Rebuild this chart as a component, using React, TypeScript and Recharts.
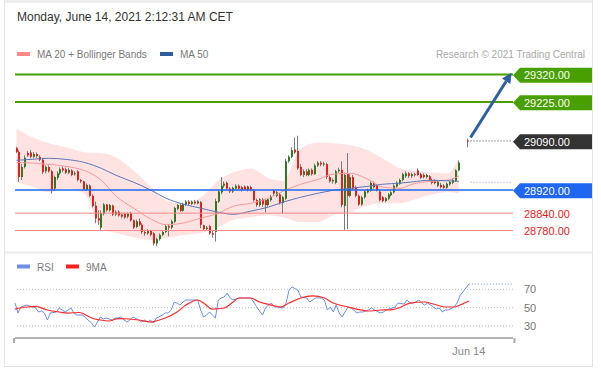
import React from "react";
import { ComposedChart, Bar, Line, Area, XAxis, YAxis, ReferenceLine } from "recharts";

const FONT = '"Liberation Sans", Arial, Helvetica, sans-serif';
const PLOT_L = 15;
const PLOT_R = 513;
const SLOTS = 170;
const BW = (PLOT_R - PLOT_L) / SLOTS;

// price levels
const target2 = 29320;
const target1 = 29225;
const lastPrice = 29090;
const pivot = 28920;
const support1 = 28840;
const support2 = 28780;
const ma50Last = 28947;
const rsiLast = 75.7;

// candles (slot index = array index)
const opens = [
  29065, 29052, 28965, 29000, 29048, 29050, 29035, 29045, 29035, 29025,
  28985, 29000, 28985, 28925, 28962, 28978, 28995, 28992, 28980, 28988,
  28975, 28985, 28955, 28950, 28922, 28935, 28900, 28866, 28822, 28790,
  28838, 28870, 28850, 28866, 28835, 28845, 28835, 28838, 28828, 28840,
  28815, 28792, 28812, 28800, 28775, 28770, 28778, 28770, 28735, 28750,
  28765, 28775, 28795, 28790, 28810, 28855, 28868, 28848, 28870, 28880,
  28872, 28880, 28874, 28878, 28798, 28785, 28795, 28770, 28775, 28880,
  28912, 28935, 28945, 28925, 28915, 28925, 28935, 28930, 28932, 28932,
  28930, 28918, 28885, 28868, 28888, 28885, 28868, 28885, 28918, 28900,
  28905, 28875, 28890, 29020, 29035, 29060, 29055, 29000, 28972, 28985,
  28972, 28990, 28975, 29005, 29015, 29008, 29010, 28965, 28950, 28945,
  28985, 28990, 28865, 28975, 28900, 28965, 28928, 28900, 28870, 28895,
  28912, 28918, 28945, 28935, 28915, 28895, 28882, 28890, 28902, 28912,
  28932, 28942, 28955, 28968, 28978, 28968, 28975, 28988, 28975, 28972,
  28965, 28968, 28955, 28952, 28935, 28938, 28935, 28928, 28940, 28945,
  28952, 28988, null, null, 29092,
];
const highs = [
  29070, 29058, 29010, 29040, 29055, 29058, 29052, 29050, 29040, 29028,
  29005, 29005, 28990, 28970, 28985, 28998, 29002, 28998, 28996, 28992,
  28985, 28990, 28958, 28952, 28942, 28940, 28905, 28880, 28850, 28850,
  28875, 28872, 28872, 28870, 28850, 28850, 28842, 28842, 28842, 28845,
  28818, 28818, 28822, 28805, 28782, 28785, 28782, 28775, 28755, 28770,
  28780, 28800, 28802, 28818, 28862, 28872, 28872, 28876, 28885, 28885,
  28884, 28886, 28885, 28882, 28800, 28795, 28800, 28778, 28890, 28920,
  28965, 28950, 28950, 28930, 28932, 28940, 28940, 28935, 28936, 28935,
  28935, 28922, 28890, 28892, 28892, 28890, 28892, 28903, 28922, 28918,
  28910, 28900, 29028, 29040, 29068, 29102, 29108, 29010, 28992, 28992,
  28995, 28995, 29012, 29020, 29020, 29018, 29015, 28970, 28960, 28990,
  28998, 29020, 28980, 29048, 28975, 28972, 28935, 28905, 28900, 28920,
  28925, 28950, 28950, 28940, 28920, 28900, 28896, 28910, 28916, 28940,
  28950, 28960, 28980, 28985, 28982, 28980, 28980, 28995, 28980, 28978,
  28976, 28972, 28960, 28958, 28955, 28945, 28940, 28946, 28952, 28960,
  28992, 29022, null, null, 29098,
];
const lows = [
  29048, 28948, 28955, 28995, 29035, 29030, 29030, 29032, 29020, 28975,
  28978, 28980, 28908, 28918, 28955, 28972, 28982, 28975, 28975, 28968,
  28970, 28950, 28944, 28918, 28918, 28895, 28860, 28805, 28800, 28778,
  28832, 28845, 28845, 28830, 28830, 28828, 28822, 28820, 28822, 28810,
  28785, 28788, 28795, 28768, 28762, 28765, 28760, 28728, 28726, 28745,
  28760, 28770, 28760, 28785, 28805, 28850, 28845, 28845, 28865, 28868,
  28868, 28870, 28870, 28788, 28778, 28780, 28765, 28755, 28742, 28875,
  28905, 28928, 28920, 28910, 28910, 28920, 28920, 28915, 28918, 28915,
  28916, 28880, 28862, 28862, 28862, 28843, 28862, 28880, 28900, 28895,
  28870, 28840, 28885, 29015, 29030, 29045, 28990, 28968, 28965, 28968,
  28968, 28970, 28972, 29000, 29002, 29002, 28958, 28945, 28942, 28940,
  28980, 28860, 28782, 28785, 28895, 28920, 28895, 28865, 28865, 28890,
  28908, 28914, 28925, 28915, 28880, 28878, 28878, 28885, 28898, 28908,
  28928, 28938, 28950, 28962, 28962, 28962, 28966, 28968, 28958, 28960,
  28960, 28950, 28940, 28940, 28930, 28925, 28924, 28924, 28935, 28940,
  28948, 28985, null, null, 29068,
];
const closes = [
  29052, 28965, 29000, 29032, 29040, 29035, 29045, 29038, 29025, 28982,
  29000, 28985, 28922, 28965, 28978, 28992, 28988, 28980, 28990, 28972,
  28978, 28955, 28950, 28922, 28938, 28900, 28865, 28822, 28815, 28840,
  28870, 28850, 28868, 28835, 28845, 28832, 28828, 28825, 28838, 28815,
  28790, 28812, 28800, 28775, 28770, 28778, 28765, 28735, 28750, 28765,
  28775, 28795, 28790, 28812, 28858, 28868, 28848, 28872, 28880, 28872,
  28880, 28874, 28881, 28800, 28785, 28790, 28770, 28765, 28882, 28915,
  28935, 28942, 28925, 28915, 28928, 28935, 28925, 28920, 28922, 28920,
  28920, 28885, 28868, 28888, 28870, 28868, 28888, 28898, 28908, 28912,
  28875, 28895, 29020, 29035, 29058, 29050, 28995, 28972, 28985, 28972,
  28990, 28975, 29005, 29015, 29008, 29012, 28965, 28950, 28955, 28985,
  28990, 28868, 28972, 28900, 28965, 28925, 28900, 28870, 28895, 28915,
  28920, 28945, 28930, 28920, 28885, 28882, 28892, 28905, 28912, 28935,
  28945, 28955, 28975, 28978, 28968, 28975, 28972, 28972, 28962, 28965,
  28972, 28955, 28945, 28944, 28950, 28930, 28928, 28942, 28948, 28955,
  28988, 29015, null, null, 29090,
];

// MA 20, MA 50 and Bollinger bands, read at these slots
const ovIdx = [0, 6, 11, 17, 23, 29, 34, 40, 46, 51, 57, 63, 69, 74, 80, 86, 91, 97, 103, 108, 114, 120, 125, 131, 135, 141, 147, 151];
const ma20 = [29016, 29013, 29009, 29002, 28988, 28954, 28899, 28857, 28819, 28800, 28806, 28823, 28840, 28864, 28874, 28892, 28916, 28940, 28957, 28975, 28978, 28957, 28930, 28926, 28940, 28950, 28954, 28968];
const ma50 = [29023, 29027, 29030, 29026, 29016, 28995, 28971, 28947, 28919, 28892, 28871, 28857, 28843, 28836, 28847, 28861, 28878, 28895, 28909, 28919, 28926, 28933, 28940, 28944, 28948, 28954, 28952, 28950];
const bbUpper = [29133, 29100, 29082, 29068, 29051, 29047, 29033, 28988, 28930, 28885, 28874, 28895, 28954, 28981, 28995, 28962, 28952, 29064, 29085, 29082, 29075, 29057, 29030, 28995, 28988, 28981, 28978, 29030];
const bbLower = [28947, 28930, 28912, 28926, 28909, 28788, 28771, 28757, 28747, 28754, 28764, 28771, 28792, 28816, 28826, 28833, 28826, 28809, 28809, 28833, 28843, 28867, 28874, 28874, 28885, 28902, 28912, 28909];

// RSI and its 9MA
const rsiIdx = [
  0, 1, 2, 4, 6, 7, 8, 9, 10, 11,
  12, 14, 15, 16, 17, 18, 19, 20, 21, 23,
  24, 26, 27, 28, 29, 30, 31, 33, 34, 35,
  36, 37, 38, 39, 40, 42, 43, 44, 45, 46,
  47, 48, 50, 51, 52, 53, 54, 55, 56, 57,
  58, 60, 62, 63, 64, 65, 66, 67, 68, 69,
  70, 71, 72, 73, 74, 76, 77, 78, 80, 81,
  82, 84, 85, 86, 87, 88, 89, 91, 92, 93,
  94, 96, 97, 99, 100, 102, 104, 105, 106, 107,
  108, 109, 110, 111, 113, 114, 115, 116, 117, 118,
  120, 121, 122, 124, 125, 126, 128, 129, 130, 132,
  133, 134, 135, 136, 137, 138, 139, 140, 142, 143,
  144, 145, 146, 147, 149, 150, 151, 154,
];
const rsiVals = [
  55.1, 44.2, 50.8, 52.9, 50.8, 49.7, 45.3, 46.4, 44.2, 36.6,
  44.2, 45.3, 49.7, 47.5, 45.3, 47.5, 49.7, 44.2, 42, 42,
  38.8, 33.3, 29, 34.4, 39.9, 37.7, 38.8, 36.6, 38.8, 38.8,
  39.9, 36.6, 34.4, 36.6, 39.9, 36.6, 34.4, 36.6, 34.4, 36.6,
  33.3, 38.8, 42, 44.2, 44.2, 47.5, 56, 55.1, 52.9, 56.2,
  58.4, 58.4, 58.4, 47.5, 39.9, 42, 45.3, 42, 38.8, 58.4,
  60.6, 61.7, 66, 60.6, 58.4, 60.6, 60.6, 60.6, 60.6, 56.2,
  50.8, 42, 49.7, 52.9, 55.1, 50.8, 50.8, 49.7, 55.1, 69.3,
  72.6, 69.3, 61.7, 60.6, 56.2, 60.6, 60.6, 58.4, 47.5, 50.8,
  45.3, 52.9, 44.2, 39.9, 50.8, 49.7, 47.5, 44.2, 45.3, 45.3,
  47.5, 49.7, 47.5, 44.2, 45.3, 47.5, 49.7, 50.8, 55.1, 54,
  58.4, 55.1, 55.1, 56.2, 58.4, 55.1, 52.9, 55.1, 50.8, 48.5,
  49.7, 45.3, 47.5, 47.5, 50.8, 55.1, 63, 75.7,
];
const rsiMaIdx = [0, 4, 7, 11, 15, 18, 22, 24, 26, 29, 32, 35, 39, 42, 46, 49, 51, 55, 58, 62, 64, 67, 71, 74, 76, 80, 83, 87, 90, 93, 97, 101, 105, 108, 113, 116, 120, 124, 128, 131, 134, 139, 142, 146, 149, 151, 154];
const rsiMaVals = [48.5, 50.8, 51.5, 47.5, 45.3, 44.2, 44.8, 42, 38.8, 36.6, 35.5, 38.2, 37.7, 36.6, 34.4, 36.6, 38.8, 45.3, 52.9, 58.4, 55.1, 48.5, 49.7, 56.2, 60.6, 60.6, 56.2, 52.9, 50.8, 55.1, 60.6, 62.8, 60.6, 55.1, 50.8, 48.5, 46.4, 47.5, 48, 50.8, 55.1, 56.2, 54, 50.8, 50.8, 52.9, 57.3];
const rsiTicks = [30, 50, 70];

const dateTickIdx = [154];
const dateTickText = ["Jun 14"];

const priceData = Array.from({ length: SLOTS }, (_, i) => {
  const row: any = { i };
  if (i < opens.length && opens[i] != null) {
    row.o = opens[i];
    row.h = highs[i];
    row.l = lows[i];
    row.c = closes[i];
    row.hl = [lows[i], highs[i]];
  }
  const k = ovIdx.indexOf(i);
  if (k >= 0) {
    row.ma20 = ma20[k];
    row.ma50 = ma50[k];
    row.band = [bbLower[k], bbUpper[k]];
  }
  return row;
});

const rsiData = Array.from({ length: SLOTS }, (_, i) => {
  const row: any = { i };
  const a = rsiIdx.indexOf(i);
  if (a >= 0) row.rsi = rsiVals[a];
  const b = rsiMaIdx.indexOf(i);
  if (b >= 0) row.rsiMa = rsiMaVals[b];
  return row;
});

function renderCandle(props: any) {
  const { x, y, width, height, payload } = props;
  if (!payload || payload.o == null || !isFinite(y) || !isFinite(height)) return <g />;
  const { o, h, l, c } = payload;
  const top = Math.min(y, y + height);
  const hh = Math.abs(height);
  const py = (v: number) => top + ((h - v) / (h - l)) * hh;
  const cx = Math.round(x + width / 2);
  const bTop = py(Math.max(o, c));
  const bBot = py(Math.min(o, c));
  const up = c > o;
  return (
    <g>
      <line x1={cx - 0.5} x2={cx - 0.5} y1={top} y2={top + hh} stroke="#7a7a7a" strokeWidth={1} />
      <rect x={cx - 1} y={bTop} width={2} height={Math.max(1, bBot - bTop)} fill={up ? "#2e7a22" : "#e3201b"} />
    </g>
  );
}

const tagLabel = (value: number, bg: string | null, color: string) => (props: any) => {
  const vb = props.viewBox || {};
  const cy = (vb.y || 0) + 0.8;
  const x0 = PLOT_R;
  return (
    <g>
      {bg && (
        <path
          d={`M${x0},${cy} L${x0 + 7},${cy - 7.5} L592,${cy - 7.5} L592,${cy + 7.5} L${x0 + 7},${cy + 7.5} Z`}
          fill={bg}
        />
      )}
      <text x={x0 + 11} y={cy + 4} fill={color} fontSize={11} fontFamily={FONT}>
        {value.toFixed(2)}
      </text>
    </g>
  );
};

function renderArrow(p: any) {
  const { x1, y1, x2, y2 } = p;
  if (![x1, y1, x2, y2].every((v) => typeof v === "number" && isFinite(v))) return <g />;
  const dx = x2 - x1;
  const dy = y2 - y1;
  const len = Math.sqrt(dx * dx + dy * dy);
  const ux = dx / len;
  const uy = dy / len;
  const bx = x2 - ux * 10;
  const by = y2 - uy * 10;
  const px = -uy;
  const py = ux;
  return (
    <g>
      <line x1={x1} y1={y1} x2={bx} y2={by} stroke="#2f5fa3" strokeWidth={3} />
      <polygon
        points={`${x2},${y2} ${bx + px * 5},${by + py * 5} ${bx - px * 5},${by - py * 5}`}
        fill="#2f5fa3"
      />
    </g>
  );
}

function DateTick(props: any) {
  const { x, y, payload } = props;
  const k = dateTickIdx.indexOf(payload.value);
  if (k >= 0) {
    return (
      <text x={x} y={y + 17} textAnchor="middle" fill="#888" fontSize={11} fontFamily={FONT}>
        {dateTickText[k]}
      </text>
    );
  }
  if (payload.value === 0) {
    return <line x1={x - BW / 2 + 0.5} x2={x - BW / 2 + 0.5} y1={y} y2={y + 5} stroke="#aaa" strokeWidth={2} />;
  }
  if (payload.value === SLOTS - 1) {
    return <line x1={x + BW / 2} x2={x + BW / 2} y1={y} y2={y + 5} stroke="#aaa" strokeWidth={2} />;
  }
  return <g />;
}

export default function App() {
  return (
    <div style={{ position: "absolute", left: 0, top: 0, width: 601, height: 375, background: "#fff", fontFamily: FONT }}>
      <svg width={601} height={375} style={{ position: "absolute", left: 0, top: 0 }} fontFamily={FONT}>
        <rect x={4} y={0} width={589} height={3} fill="#eeeeee" />
        <line x1={4.5} y1={0} x2={4.5} y2={367} stroke="#e4e4e4" />
        <line x1={592.5} y1={0} x2={592.5} y2={367} stroke="#e4e4e4" />
        <line x1={4} y1={252.5} x2={593} y2={252.5} stroke="#ececec" strokeWidth={2} />
        <line x1={4} y1={366.5} x2={593} y2={366.5} stroke="#e4e4e4" />
        <text x={17} y={21} fontSize={12} fill="#333">Monday, June 14, 2021 2:12:31 AM CET</text>
        <rect x={17} y={52} width={13} height={4} fill="#f88" />
        <text x={37} y={57.5} fontSize={10} fill="#7a7a7a">MA 20 + Bollinger Bands</text>
        <rect x={160} y={52} width={13} height={4} fill="#2f5e9e" />
        <text x={180} y={57.5} fontSize={10} fill="#7a7a7a">MA 50</text>
        <text x={585} y={58} textAnchor="end" fontSize={10} fill="#aaa">Research © 2021 Trading Central</text>
        <rect x={17} y={264.5} width={13} height={4} fill="#6d8fe6" />
        <text x={37} y={270.5} fontSize={10} fill="#7a7a7a">RSI</text>
        <rect x={66} y={264.5} width={13} height={4} fill="#ff2020" />
        <text x={86} y={270.5} fontSize={10} fill="#7a7a7a">9MA</text>
      </svg>

      <div style={{ position: "absolute", left: 0, top: 0 }}>
        <ComposedChart
          width={601}
          height={260}
          data={priceData}
          margin={{ top: 51.4, right: 601 - PLOT_R, bottom: 6.4, left: PLOT_L }}
          barCategoryGap={0}
          barGap={0}
        >
          <XAxis dataKey="i" type="category" hide />
          <YAxis hide domain={[28700, 29400]} allowDataOverflow />
          <Area dataKey="band" type="monotone" stroke="none" fill="#ffe2e2" fillOpacity={1} connectNulls isAnimationActive={false} />
          <Line dataKey="ma20" type="monotone" stroke="#f59a9a" strokeWidth={1} dot={false} connectNulls isAnimationActive={false} />
          <Line dataKey="ma50" type="monotone" stroke="#5a78b8" strokeWidth={1} dot={false} connectNulls isAnimationActive={false} />
          <Bar dataKey="hl" shape={renderCandle} isAnimationActive={false} />
          <ReferenceLine y={support2} stroke="#f88" strokeWidth={1} label={tagLabel(support2, null, "#e31b1b")} />
          <ReferenceLine y={support1} stroke="#f88" strokeWidth={1} label={tagLabel(support1, null, "#e31b1b")} />
          <ReferenceLine y={pivot} stroke="#1f66f0" strokeWidth={1.6} label={tagLabel(pivot, "#1f66f0", "#fff")} />
          <ReferenceLine y={target1} stroke="#48a000" strokeWidth={2} label={tagLabel(target1, "#48a000", "#fff")} />
          <ReferenceLine y={target2} stroke="#48a000" strokeWidth={2} label={tagLabel(target2, "#48a000", "#fff")} />
          <ReferenceLine
            segment={[{ x: 155, y: ma50Last }, { x: SLOTS - 1, y: ma50Last }]}
            stroke="#8a94ad"
            strokeDasharray="1 2"
          />
          <ReferenceLine
            segment={[{ x: 155, y: lastPrice }, { x: SLOTS - 1, y: lastPrice }]}
            stroke="#444"
            strokeDasharray="1 2"
            label={tagLabel(lastPrice, "#333", "#fff")}
          />
          <ReferenceLine
            segment={[{ x: 155, y: lastPrice + 12 }, { x: SLOTS - 1, y: target2 + 6 }]}
            shape={renderArrow}
            stroke="#2f5fa3"
            strokeWidth={3}
          />
        </ComposedChart>
      </div>

      <div style={{ position: "absolute", left: 0, top: 252 }}>
        <ComposedChart width={601} height={114} data={rsiData} margin={{ top: 19, right: 28, bottom: 0, left: PLOT_L }}>
          <XAxis
            dataKey="i"
            type="category"
            height={28}
            ticks={[0, ...dateTickIdx, SLOTS - 1]}
            interval={0}
            tickLine={false}
            tickSize={0}
            tickMargin={0}
            axisLine={{ stroke: "#b3b3b3", strokeWidth: 2 }}
            tick={<DateTick />}
          />
          <YAxis
            orientation="right"
            width={60}
            domain={[17, 90]}
            allowDataOverflow
            ticks={rsiTicks}
            axisLine={false}
            tickLine={false}
            tickMargin={5}
            tick={{ fill: "#777", fontSize: 11, fontFamily: FONT }}
          />
          {rsiTicks.map((t) => (
            <ReferenceLine key={t} y={t} stroke="#bdbdbd" strokeDasharray="1 2" />
          ))}
          <Line dataKey="rsi" stroke="#6d8fe6" strokeWidth={1} dot={false} connectNulls isAnimationActive={false} />
          <Line dataKey="rsiMa" type="monotone" stroke="#ff2a2a" strokeWidth={1.2} dot={false} connectNulls isAnimationActive={false} />
          <ReferenceLine
            segment={[{ x: 154, y: rsiLast }, { x: SLOTS - 1, y: rsiLast }]}
            stroke="#6d8fe6"
            strokeDasharray="1 2"
          />
        </ComposedChart>
      </div>
    </div>
  );
}
